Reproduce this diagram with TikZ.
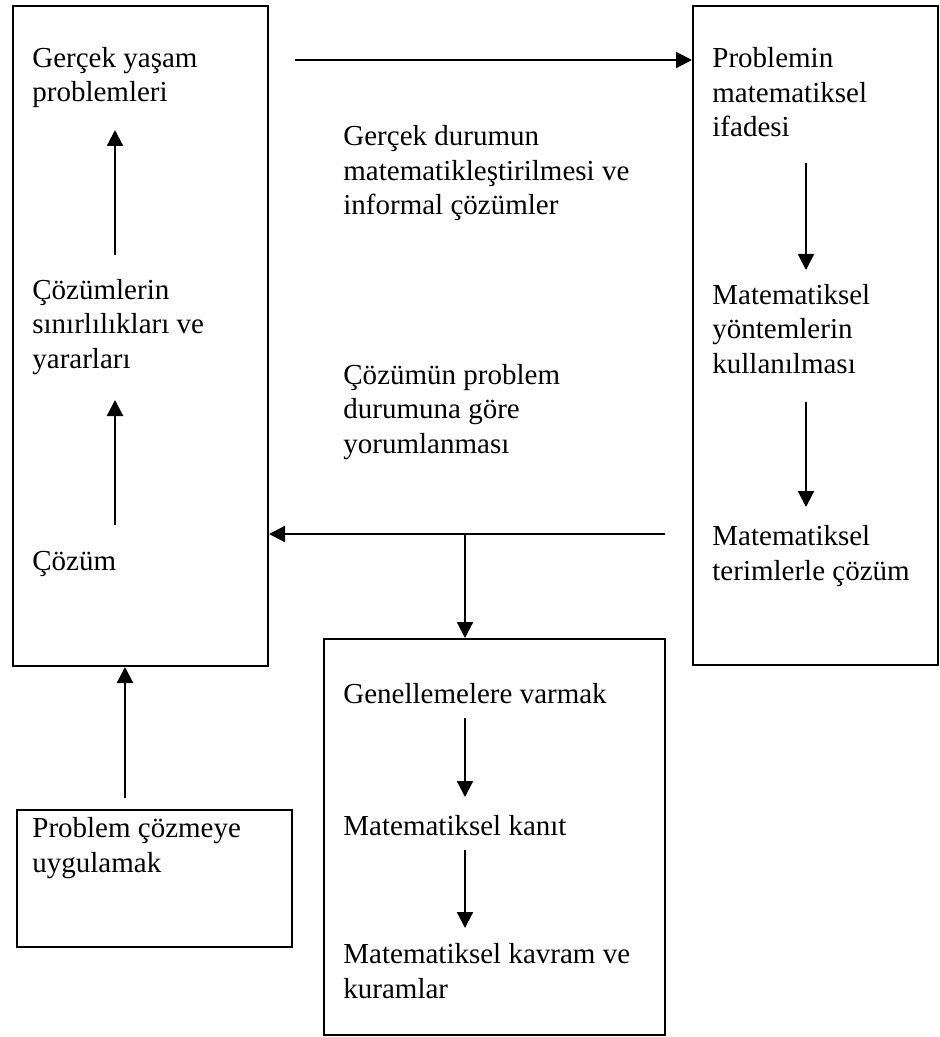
\documentclass[tikz,border=0pt]{standalone}
\usepackage{fontspec}
\setmainfont{Liberation Serif}
\usetikzlibrary{arrows.meta}

\begin{document}
\begin{tikzpicture}[x=0.5pt,y=-0.5pt,
		box/.style={draw=black,line width=1pt,inner sep=0pt,anchor=north west},
		txt/.style={anchor=base west,align=left,inner sep=0pt,font=\fontsize{14.5}{17.25}\selectfont},
		arr/.style={-{Triangle[length=8pt,width=8pt]},line width=1.1pt}]
				\useasboundingbox (0,0) rectangle (939,1037);
				%% Boxes ------
				\node[box,minimum width=127.75pt,minimum height=330pt] (lbox) at (11.5,5) {};
				\node[box,minimum width=122.5pt,minimum height=329.5pt] (rbox) at (692,5) {};
				\node[box,minimum width=170.5pt,minimum height=198pt] (mbox) at (323,638) {};
				\node[box,minimum width=137.5pt,minimum height=68.5pt] (pbox) at (16,809) {};
				%% Texts (anchored on the last line) ------
				\node[txt] (gercek) at (32,102) {Gerçek yaşam\\problemleri};
				\node[txt] (sinir) at (32,368) {Çözümlerin\\sınırlılıkları ve\\yararları};
				\node[txt] (cozum) at (32,570) {Çözüm};
				\node[txt] (uygula) at (32,872) {Problem çözmeye\\uygulamak};
				\node[txt] (matlas) at (343,215) {Gerçek durumun\\matematikleştirilmesi ve\\informal çözümler};
				\node[txt] (yorum) at (343,453) {Çözümün problem\\durumuna göre\\yorumlanması};
				\node[txt] (ifade) at (712,137) {Problemin\\matematiksel\\ifadesi};
				\node[txt] (yontem) at (712,373) {Matematiksel\\yöntemlerin\\kullanılması};
				\node[txt] (terim) at (712,580) {Matematiksel\\terimlerle çözüm};
				\node[txt] (genel) at (343,703) {Genellemelere varmak};
				\node[txt] (kanit) at (343,835) {Matematiksel kanıt};
				\node[txt] (kuram) at (343,998) {Matematiksel kavram ve\\kuramlar};
				%% Arrow ends ---------
				\coordinate (l1) at (115,255);
				\coordinate (l2) at (115,130);
				\coordinate (l3) at (115,525);
				\coordinate (l4) at (115,400);
				\coordinate (r1) at (806,163);
				\coordinate (r2) at (806,270);
				\coordinate (r3) at (806,402);
				\coordinate (r4) at (806,507);
				\coordinate (m1) at (465,718);
				\coordinate (m2) at (465,797);
				\coordinate (m3) at (465,850);
				\coordinate (m4) at (465,928);
				\coordinate (top) at (295,60);
				\coordinate (back) at (665,534);
				\coordinate (split) at (465,534);
				\coordinate (apply) at (125,798);
				%% Arrows ---------
				\draw[arr] (l1) -- (l2);
				\draw[arr] (l3) -- (l4);
				\draw[arr] (r1) -- (r2);
				\draw[arr] (r3) -- (r4);
				\draw[arr] (m1) -- (m2);
				\draw[arr] (m3) -- (m4);
				\draw[arr] (top) -- (top -| rbox.west);
				\draw[arr] (back) -- (back -| lbox.east);
				\draw[arr] (split) -- (split |- mbox.north);
				\draw[arr] (apply) -- (apply |- lbox.south);
			\end{tikzpicture}
\end{document}
